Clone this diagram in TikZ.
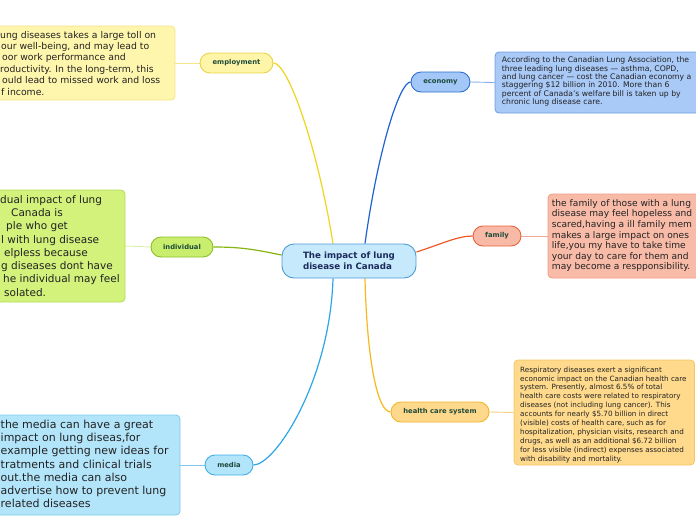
\documentclass[tikz,border=0pt]{standalone}
\usepackage{fontspec}
\setmainfont{DejaVu Sans}
\usetikzlibrary{backgrounds}
\definecolor{lblcol}{HTML}{1E4A3A}
\definecolor{txtcol}{HTML}{222222}
\definecolor{ctxt}{HTML}{1B2B5C}
\definecolor{empfill}{HTML}{FFF5A8}\definecolor{empdraw}{HTML}{E9D24A}
\definecolor{empbfill}{HTML}{FFF6AD}\definecolor{empbdraw}{HTML}{F3E48A}
\definecolor{ecofill}{HTML}{A3C8F7}\definecolor{ecodraw}{HTML}{2E6FCF}
\definecolor{ecobfill}{HTML}{A9C9F7}\definecolor{ecobdraw}{HTML}{6D9BE0}
\definecolor{famfill}{HTML}{F8BAA6}\definecolor{famdraw}{HTML}{E8643F}
\definecolor{fambfill}{HTML}{F8BBA8}\definecolor{fambdraw}{HTML}{EE9C85}
\definecolor{indfill}{HTML}{C9EE6E}\definecolor{inddraw}{HTML}{8DBE27}
\definecolor{indbfill}{HTML}{D2F27B}\definecolor{indbdraw}{HTML}{B3DB5B}
\definecolor{hcsfill}{HTML}{FFD98B}\definecolor{hcsdraw}{HTML}{F2B52B}
\definecolor{hcsbfill}{HTML}{FFDA8D}\definecolor{hcsbdraw}{HTML}{F3C565}
\definecolor{medfill}{HTML}{B2E5FA}\definecolor{meddraw}{HTML}{3FAEE6}
\definecolor{medbfill}{HTML}{B3E5FA}\definecolor{medbdraw}{HTML}{7DCAEE}
\definecolor{cfill}{HTML}{C6E9FB}\definecolor{cdraw}{HTML}{4F9CD9}
\definecolor{empline}{HTML}{EFD51B}\definecolor{ecoline}{HTML}{1D62D3}
\definecolor{famline}{HTML}{F0582A}\definecolor{indline}{HTML}{86B512}
\definecolor{hcsline}{HTML}{F7B81A}\definecolor{medline}{HTML}{2BA6E6}
\definecolor{empthin}{HTML}{F5E68A}\definecolor{ecothin}{HTML}{8AB0E8}
\definecolor{famthin}{HTML}{F0A890}\definecolor{indthin}{HTML}{DCEFB0}
\definecolor{hcsthin}{HTML}{F8D080}\definecolor{medthin}{HTML}{80C8F0}
\begin{document}
\begin{tikzpicture}[x=1pt,y=-1pt,
  lbl/.style={draw, rounded corners=10pt, inner sep=0pt, minimum height=20pt,
    line width=0.9pt, font=\fontsize{6.8}{8}\selectfont\bfseries, text=lblcol},
  bub/.style={draw, rounded corners=4pt, inner sep=0pt, line width=0.8pt},
  txt/.style={inner sep=0pt, anchor=north west, align=left, text=txtcol},
  conn/.style={line width=1.2pt},
  link/.style={line width=0.9pt}]
\useasboundingbox (0,0) rectangle (696,520);
\clip (0,0) rectangle (696,520);

% bubbles
\node[bub, fill=empbfill, draw=empbdraw, minimum width=185pt, minimum height=74pt] (empb) at (82.5,63) {};
\node[bub, fill=ecobfill, draw=ecobdraw, minimum width=220pt, minimum height=61pt] (ecob) at (605,82.5) {};
\node[bub, fill=fambfill, draw=fambdraw, minimum width=167pt, minimum height=84pt] (famb) at (631.5,236) {};
\node[bub, fill=indbfill, draw=indbdraw, minimum width=135pt, minimum height=112pt] (indb) at (57.5,246) {};
\node[bub, fill=hcsbfill, draw=hcsbdraw, minimum width=180.5pt, minimum height=105pt] (hcsb) at (604.25,412.5) {};
\node[bub, fill=medbfill, draw=medbdraw, minimum width=190pt, minimum height=100pt] (medb) at (85,465) {};

% bubble texts
\node[txt, font=\fontsize{9.3}{11.4}\selectfont] (empt) at (0,30.9)
 {ung diseases takes a large toll on\\\hspace*{1pt}our well-being, and may lead to\\\hspace*{2pt}oor work performance and\\roductivity. In the long-term, this\\\hspace*{2pt}ould lead to missed work and loss\\\hspace*{1pt}f income.};
\node[txt, font=\fontsize{7.7}{8.45}\selectfont] (ecot) at (501.7,56.5)
 {According to the Canadian Lung Association, the\\three leading lung diseases — asthma, COPD,\\and lung cancer — cost the Canadian economy a\\staggering \$12 billion in 2010. More than 6\\percent of Canada's welfare bill is taken up by\\chronic lung disease care.};
\node[txt, font=\fontsize{9.1}{10.6}\selectfont] (famt) at (551.7,199.1)
 {the family of those with a lung\\disease may feel hopeless and\\scared,having a ill family mem\\makes a large impact on ones\\life,you my have to take time\\your day to care for them and\\may become a respponsibility.};
\node[txt, font=\fontsize{10.5}{13.3}\selectfont] (indt) at (0,195)
 {dual impact of lung\\\hspace*{11pt}Canada is\\\hspace*{6pt}ple who get\\\hspace*{1pt}l with lung disease\\\hspace*{4pt}elpless because\\\hspace*{1pt}g diseases dont have\\\hspace*{3pt}he individual may feel\\\hspace*{4pt}solated.};
\node[txt, font=\fontsize{7.2}{8.9}\selectfont] (hcst) at (520,366.5)
 {Respiratory diseases exert a significant\\economic impact on the Canadian health care\\system. Presently, almost 6.5\% of total\\health care costs were related to respiratory\\diseases (not including lung cancer). This\\accounts for nearly \$5.70 billion in direct\\(visible) costs of health care, such as for\\hospitalization, physician visits, research and\\drugs, as well as an additional \$6.72 billion\\for less visible (indirect) expenses associated\\with disability and mortality.};
\node[txt, font=\fontsize{11}{13.3}\selectfont] (medt) at (0.5,419.6)
 {the media can have a great\\impact on lung diseas,for\\example getting new ideas for\\tratments and clinical trials\\out.the media can also\\advertise how to prevent lung\\related diseases};

% branch labels
\node[lbl, fill=empfill, draw=empdraw, minimum width=73pt] (emp) at (236.5,63) {employment};
\node[lbl, fill=ecofill, draw=ecodraw, minimum width=59pt] (eco) at (440.5,82) {economy};
\node[lbl, fill=famfill, draw=famdraw, minimum width=48pt] (fam) at (497,236) {family};
\node[lbl, fill=indfill, draw=inddraw, minimum width=62pt] (ind) at (182,247) {individual};
\node[lbl, fill=hcsfill, draw=hcsdraw, minimum width=98pt] (hcs) at (440,412) {health care system};
\node[lbl, fill=medfill, draw=meddraw, minimum width=48pt] (med) at (229,465) {media};

% central
\node[draw=cdraw, fill=cfill, line width=0.9pt, rounded corners=12pt, inner sep=0pt,
  minimum width=134pt, minimum height=34pt, align=left, text=ctxt,
  font=\fontsize{8.7}{11}\selectfont\bfseries] (c) at (349,261)
  {The impact of lung\\disease in Canada};

\begin{pgfonlayer}{background}
\draw[link, empthin] (emp.west) -- (empb.east);
\draw[link, ecothin] (eco.east) -- (ecob.west);
\draw[link, famthin] (fam.east) -- (famb.west);
\draw[link, indthin] (ind.west) -- (indb.east);
\draw[link, hcsthin] (hcs.east) -- (hcsb.west);
\draw[link, medthin] (med.west) -- (medb.east);

\draw[conn, empline] (emp.east) .. controls +(15,0) and +(-15,-94) .. ([xshift=-16pt]c.north);
\draw[conn, ecoline] (eco.west) .. controls +(-11,0) and +(13,-94) .. ([xshift=16pt]c.north);
\draw[conn, famline] ([yshift=9pt]c.east) .. controls +(25,-8) and +(-15,0) .. (fam.west);
\draw[conn, indline] (ind.east) .. controls +(30,0) and +(-25,-5) .. ([yshift=6pt]c.west);
\draw[conn, hcsline] ([xshift=16pt]c.south) .. controls +(2,82) and +(-13,0) .. (hcs.west);
\draw[conn, medline] ([xshift=-16pt]c.south) .. controls +(-3,102) and +(22,0) .. (med.east);
\end{pgfonlayer}
\end{tikzpicture}
\end{document}
